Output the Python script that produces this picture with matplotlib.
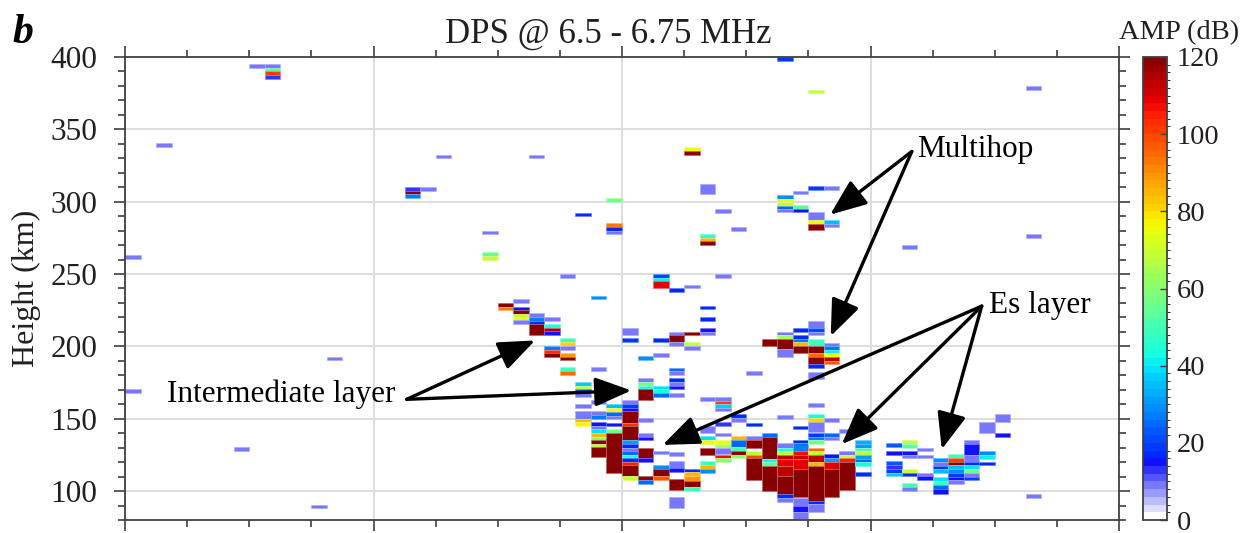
import numpy as np
import matplotlib
matplotlib.use("Agg")
import matplotlib.pyplot as plt
from matplotlib.colors import ListedColormap, BoundaryNorm
from matplotlib.patches import ArrowStyle

plt.rcParams['font.family'] = ['Liberation Serif', 'DejaVu Serif']

# cells: (column, height bottom km, height top km, amplitude dB)
scattered = [
    (0, 260.5, 263, 9), (0, 168, 170.5, 9), (2, 338, 340.5, 9), (7, 128, 130.5, 9),
    (8, 392.5, 395, 9), (9, 392.5, 395, 9), (9, 390, 392.5, 52), (9, 387.5, 390, 100),
    (9, 385, 387.5, 13), (12, 88, 90.5, 9), (13, 190.5, 193, 9),
    (18, 307.5, 310, 13), (18, 305, 307.5, 119), (18, 302.5, 305, 26), (19, 307.5, 310, 9),
    (20, 330, 332.5, 9), (23, 262.5, 265, 55), (23, 260, 262.5, 68), (23, 277.5, 280, 9),
    (26, 330, 332.5, 9), (28, 247.5, 250, 9), (29, 290, 292.5, 17),
    (31, 300, 302.5, 56), (31, 282.5, 285, 92), (31, 280, 282.5, 17), (31, 277.5, 280, 9),
    (30, 232.5, 235, 28), (34, 247.5, 250, 21), (34, 245, 247.5, 40), (34, 240, 245, 108),
    (35, 237.5, 240, 17), (36, 240, 242.5, 9), (36, 335, 337.5, 75), (36, 332.5, 335, 119),
    (37, 305, 312.5, 9), (37, 275, 277.5, 46), (37, 272.5, 275, 85), (37, 270, 272.5, 119),
    (38, 292.5, 295, 9), (38, 247.5, 250, 9), (39, 280, 282.5, 9), (42, 397.5, 400, 18),
    (44, 375, 377.5, 68), (50, 267.5, 270, 9), (58, 377.5, 380, 9), (58, 275, 277.5, 9),
    (58, 95.5, 98, 9),
]

multihop = [
    (42, 302, 304.8, 28), (42, 299.5, 302, 74), (42, 297.2, 299.5, 68), (42, 295.2, 297.2, 24),
    (42, 292.6, 295.2, 9), (43, 305.3, 307.6, 9), (43, 295.2, 298, 52), (43, 292.9, 295.2, 15),
    (44, 307.8, 310.6, 19), (44, 287.6, 292.9, 9), (44, 284.8, 287.6, 74), (44, 280.2, 284.8, 119),
    (45, 307.8, 310.6, 9), (45, 284.8, 287.6, 34), (45, 282.5, 284.8, 9),
    (40, 180.2, 183, 9), (41, 200.2, 205.3, 119),
    (42, 207.6, 210, 9), (42, 205, 207.6, 64), (42, 198, 205, 119), (42, 192.9, 198, 9),
    (43, 210.1, 212.4, 17), (43, 205.3, 207.6, 17), (43, 203, 205.3, 26), (43, 200.2, 203, 85),
    (43, 195.2, 200.2, 119),
    (44, 212.4, 217.5, 9), (44, 210.1, 212.4, 21), (44, 207.6, 210.1, 9), (44, 200.2, 205.3, 48),
    (44, 195.2, 200.2, 119), (44, 192.4, 195.2, 95), (44, 187.6, 192.4, 119), (44, 184.8, 187.6, 17),
    (44, 177.7, 182.3, 9), (44, 158, 160.7, 9),
    (45, 200.2, 202.6, 9), (45, 197.5, 200.2, 26), (45, 195.2, 197.5, 40), (45, 192.4, 195.2, 74),
    (45, 189.9, 192.4, 112), (45, 187.6, 189.9, 96),
]

intermediate = [
    (24, 227.4, 230.1, 119), (24, 224.8, 227.4, 93),
    (25, 229.9, 232.4, 9), (25, 224.8, 227.4, 15), (25, 222.5, 224.8, 119), (25, 220.2, 222.5, 68),
    (25, 217.9, 220.2, 75), (25, 215.6, 217.9, 9),
    (26, 220.5, 223, 9), (26, 217.7, 220.5, 26), (26, 215.4, 217.7, 17), (26, 208, 215.4, 119),
    (27, 217.5, 220, 9), (27, 212.6, 215.4, 42), (27, 210.6, 212.6, 114), (27, 207.8, 210.6, 15),
    (27, 197.2, 200, 26), (27, 195.4, 197.2, 102), (27, 192.6, 195.4, 119),
    (28, 202.7, 205.5, 48), (28, 200, 202.7, 81), (28, 197.2, 200, 9), (28, 192.6, 195.4, 89),
    (28, 190.3, 192.6, 119), (28, 182.7, 185.5, 48), (28, 179.9, 182.7, 94), (30, 182.7, 185.5, 9),
    (29, 172.4, 175.2, 37), (29, 170.3, 172.4, 68), (29, 167.8, 170.3, 23), (29, 165, 167.8, 9),
    (29, 157.7, 160.4, 9), (29, 150.1, 155.2, 9), (29, 147.6, 150.1, 84), (29, 144.8, 147.6, 77),
    (30, 160.2, 162.7, 9), (30, 152.9, 155.2, 9), (30, 150.1, 152.9, 26),
    (31, 157.2, 160, 34), (31, 154.9, 157.2, 74), (31, 152.2, 154.9, 24), (31, 149.9, 152.2, 9),
    (32, 207.6, 212.9, 9), (32, 203, 206, 19), (32, 160, 162.7, 9), (32, 157.2, 160, 19),
    (32, 155.4, 157.2, 15), (33, 190.6, 193.3, 28), (33, 175.4, 177.9, 9), (33, 172.6, 175.4, 56),
    (33, 170.3, 172.6, 44), (33, 163, 170.3, 119),
    (34, 192.4, 195.2, 9), (34, 203, 205.5, 17), (34, 170.3, 172.6, 38), (34, 167.8, 170.3, 42),
    (34, 165.3, 167.8, 24),
    (35, 207.8, 210.1, 9), (35, 203, 207.8, 119), (35, 200.2, 203, 9), (35, 182.7, 185.3, 24),
    (35, 180.2, 182.7, 9), (35, 175.4, 177.9, 17), (35, 172.6, 175.4, 9), (35, 170.3, 172.6, 15),
    (35, 165.3, 167.8, 9),
    (36, 207.8, 210.1, 119), (36, 200.2, 203, 68), (36, 197.5, 200.2, 9),
    (37, 225.5, 227.8, 17), (37, 217.7, 220.2, 17), (37, 210.1, 212.9, 15), (37, 207.8, 210.1, 9),
    (37, 162.5, 165.3, 9), (38, 162.5, 165.3, 9), (38, 160, 162.5, 100), (38, 157.2, 160, 36),
    (38, 155, 157.2, 9),
]

es_layer = [
    (30, 145, 147.6, 15), (30, 142.8, 145, 9), (30, 140.1, 142.8, 38), (30, 137.3, 140.1, 84),
    (30, 135, 137.3, 58), (30, 132.4, 135, 119), (30, 130.5, 132.4, 66), (30, 123.2, 130.5, 119),
    (31, 145, 147.3, 15), (31, 140, 142.8, 56), (31, 112.2, 140, 119),
    (32, 147.3, 155.4, 119), (32, 144.8, 147.3, 103), (32, 135.4, 144.8, 119), (32, 132.6, 135.4, 31),
    (32, 130.1, 132.6, 17), (32, 127.8, 130.1, 9), (32, 125, 127.8, 24), (32, 122.7, 125, 45),
    (32, 120, 122.7, 17), (32, 117.9, 120, 105), (32, 110.6, 117.9, 119), (32, 107.8, 110.6, 68),
    (33, 147.8, 150.3, 9), (33, 137.7, 140.4, 9), (33, 135.4, 137.7, 15), (33, 122.7, 130.1, 119),
    (33, 120, 122.7, 15), (33, 107.8, 110.6, 119), (33, 105, 107.8, 24),
    (34, 125.5, 127.8, 9), (34, 115, 117.7, 28), (34, 110.6, 115, 119), (34, 107.8, 110.6, 96),
    (35, 124.5, 127, 9), (35, 115.6, 120.9, 9), (35, 112.9, 115.6, 15), (35, 100.5, 108.3, 119),
    (35, 88, 95.6, 9),
    (36, 112.9, 115.2, 17), (36, 110.1, 112.9, 84), (36, 107.1, 110.1, 89), (36, 102.5, 107.1, 119),
    (36, 100.2, 102.5, 48),
    (37, 140.4, 145, 9), (37, 135.4, 138.1, 38), (37, 132.6, 135.4, 75), (37, 125, 130.1, 119),
    (37, 118.1, 120.9, 48), (37, 115.4, 118.1, 84), (37, 112.6, 115.4, 28),
    (38, 145, 147.8, 13), (38, 138.1, 140.4, 9), (38, 132.6, 135.4, 75), (38, 130.1, 132.6, 64),
    (38, 125.5, 130.1, 9), (38, 122.7, 125, 106), (38, 120, 122.7, 60),
    (39, 150.3, 153.1, 17), (39, 147.8, 150.3, 9), (39, 135.4, 138.1, 84), (39, 130.6, 135.4, 24),
    (39, 127.8, 130.6, 50), (39, 125, 127.8, 119), (39, 122.7, 125, 60),
    (40, 145, 147.3, 17), (40, 135.4, 138.1, 9), (40, 130.1, 135.4, 119), (40, 125, 127.8, 68),
    (40, 122.7, 125, 98), (40, 107.8, 122.7, 119),
    (41, 137.5, 140, 24), (41, 122.5, 137.5, 119), (41, 119.8, 122.5, 42), (41, 117, 119.8, 52),
    (41, 100.2, 117, 119),
    (42, 150.1, 152.4, 9), (42, 130.1, 132.9, 9), (42, 127.4, 130.1, 44), (42, 125, 127.4, 66),
    (42, 122.1, 125, 112), (42, 117, 122.1, 108), (42, 110.6, 117, 112), (42, 97.9, 110.6, 119),
    (42, 95.2, 97.9, 17), (42, 92.6, 95.2, 9),
    (43, 142.8, 145.1, 17), (43, 132.9, 135.4, 17), (43, 127.8, 132.9, 26), (43, 124.8, 127.8, 106),
    (43, 122.1, 124.8, 110), (43, 115.2, 122.1, 108), (43, 95.6, 115.2, 119), (43, 89.9, 95, 9),
    (43, 85.3, 89.9, 15), (43, 80.7, 85.3, 9),
    (44, 150.4, 153.1, 42), (44, 147.8, 150.4, 81), (44, 140.5, 147.8, 9), (44, 137.5, 140, 19),
    (44, 135.2, 137.5, 26), (44, 132.4, 135.2, 56), (44, 127.4, 130.1, 95), (44, 125, 127.4, 68),
    (44, 119.8, 125, 112), (44, 117, 119.8, 84), (44, 93.4, 117, 119), (44, 91.1, 93.4, 17),
    (44, 85.3, 91.1, 9),
    (45, 147.8, 150.4, 9), (45, 137.5, 140, 24), (45, 135.2, 137.5, 9), (45, 122.8, 125.5, 15),
    (45, 120.2, 122.8, 30), (45, 115.2, 120.2, 108), (45, 95.6, 115.2, 119),
    (46, 140, 142.8, 9), (46, 125, 127.8, 9), (46, 122.8, 125, 68), (46, 120.2, 122.8, 105),
    (46, 100.9, 120.2, 119),
    (47, 132.4, 135.2, 33), (47, 130.1, 132.4, 31), (47, 127.4, 130.1, 50), (47, 125, 127.4, 66),
    (47, 122.1, 125, 30), (47, 119.8, 122.1, 24), (47, 117, 119.8, 42), (47, 110.6, 112.9, 17),
    (49, 130.3, 133.1, 23), (49, 125, 127.8, 15), (49, 118.1, 120.9, 23), (49, 115.1, 118.1, 13),
    (49, 112.4, 115.1, 19), (49, 110.5, 112.4, 37),
    (50, 132.4, 135.1, 68), (50, 130.1, 132.4, 52), (50, 125, 127.8, 15), (50, 122.7, 125, 9),
    (50, 112.4, 115.1, 68), (50, 110.5, 112.4, 17), (50, 102.5, 105.5, 50), (50, 100.2, 102.5, 9),
    (51, 127.8, 130.1, 9), (51, 122.7, 125, 9), (51, 110.5, 112.8, 9), (51, 107.8, 110.5, 15),
    (52, 120, 122.7, 28), (52, 117.6, 120, 9), (52, 115.1, 117.6, 19), (52, 112.4, 115.1, 34),
    (52, 107.3, 110, 38), (52, 104.5, 107.3, 48), (52, 101.3, 104.5, 24), (52, 98.3, 101.3, 15),
    (53, 122.7, 125.5, 48), (53, 120.2, 122.7, 100), (53, 117.9, 120.2, 119), (53, 115.1, 117.9, 34),
    (53, 112.4, 115.1, 28), (53, 110, 112.4, 19), (53, 107.5, 110, 15), (53, 105, 107.5, 9),
    (54, 132.4, 135.1, 9), (54, 125, 132.4, 15), (54, 120.4, 125, 9), (54, 118.1, 120.4, 17),
    (54, 115.1, 118.1, 38), (54, 112.4, 115.1, 56), (54, 110, 112.4, 9), (54, 107.5, 110, 19),
    (55, 140.4, 147.8, 9), (55, 125, 127.8, 28), (55, 122, 125, 40), (55, 117.9, 120.2, 17),
    (56, 147.8, 153.1, 9), (56, 137.6, 140.4, 15),
]

# labels: text, text anchor, arrow tail, arrow heads (data units)
notes = [
    ("Multihop", (51.0, 336.0), (50.66, 334.7), [(45.40, 291.0), (45.44, 207.1)]),
    ("Es layer", (55.6, 228.0), (55.16, 227.8), [(34.62, 131.9), (46.15, 132.4), (52.59, 128.9)]),
    ("Intermediate layer", (2.7, 167.0), (18.14, 163.4), [(26.40, 204.1), (32.60, 169.5)]),
]

# colormap: white -> lavender ramp below ~15 dB, jet above, 2 dB steps
bounds = np.arange(0, 122, 2)
centers = bounds[:-1] + 1
jet = matplotlib.colormaps['jet']
colors = []
for c in centers:
    if c < 16:
        m = (c - 1) / 15.0
        colors.append((1 - m, 1 - m, 1.0, 1.0))
    else:
        colors.append(jet(0.125 + (c - 12) / 123.4))
cmap = ListedColormap(colors)
norm = BoundaryNorm(bounds, cmap.N)

fig = plt.figure(figsize=(12.53, 5.33), dpi=100)
ax = fig.add_axes([125 / 1253, 13 / 533, 994 / 1253, 463 / 533])
cax = fig.add_axes([1143 / 1253, 13 / 533, 24 / 1253, 463 / 533])

cells = np.array(scattered + multihop + intermediate + es_layer, dtype=float)
fc = cmap(norm(cells[:, 3]))
ec = fc.copy()
ec[:, :3] = 0.6 * fc[:, :3] + 0.4
ax.bar(cells[:, 0], cells[:, 2] - cells[:, 1], bottom=cells[:, 1], width=1.0, align='edge',
       color=fc, edgecolor=ec, linewidth=0.5, zorder=2)

ax.set_xlim(0, 64)
ax.set_ylim(80, 400)
ax.set_xticks(np.arange(0, 65, 16))
ax.set_xticks(np.arange(0, 65, 4), minor=True)
ax.set_yticks(np.arange(100, 401, 50))
ax.set_yticks(np.arange(80, 401, 10), minor=True)
ax.grid(True, which='major', color='#dddddd', lw=1.4, zorder=0)
ax.set_axisbelow(True)
ax.tick_params(which='both', direction='out', top=True, right=True, labelbottom=False,
               color='#404040', width=1.2, labelsize=22.5, labelcolor='#231f20', pad=12)
ax.tick_params(which='major', length=8)
ax.tick_params(which='minor', length=5)
for s in ax.spines.values():
    s.set_color('#404040')
    s.set_linewidth(1.3)

arrow = ArrowStyle('-|>', head_length=0.8, head_width=0.32)
for text, tpos, tail, heads in notes:
    ax.text(tpos[0], tpos[1], text, ha='left', va='center', fontsize=22.5, color='black', zorder=5)
    for h in heads:
        ax.annotate('', xy=h, xytext=tail,
                    arrowprops=dict(arrowstyle=arrow, color='black', lw=2.4, mutation_scale=28,
                                    shrinkA=0, shrinkB=0), zorder=6)

cb = matplotlib.colorbar.ColorbarBase(cax, cmap=cmap, norm=norm, boundaries=bounds,
                                      ticks=np.arange(0, 121, 20), orientation='vertical')
cb.outline.set_edgecolor('#404040')
cb.outline.set_linewidth(1.3)
cax.tick_params(direction='in', length=5, width=1.0, color='#404040', labelsize=20.5,
                labelcolor='#231f20', pad=7)

fig.text(26 / 1253, 1 - 288 / 533, 'Height (km)', rotation=90, ha='center', va='center',
         fontsize=23, color='#231f20')
fig.text(608 / 1253, 1 - 43 / 533, 'DPS @ 6.5 - 6.75 MHz', ha='center', va='baseline',
         fontsize=25, color='#231f20')
fig.text(12 / 1253, 1 - 43 / 533, 'b', ha='left', va='baseline', fontsize=30,
         fontweight='bold', fontstyle='italic', color='black')
fig.text(1179 / 1253, 1 - 39 / 533, 'AMP (dB)', ha='center', va='baseline', fontsize=20.5,
         color='#231f20')

fig.savefig('out.png', dpi=100)
